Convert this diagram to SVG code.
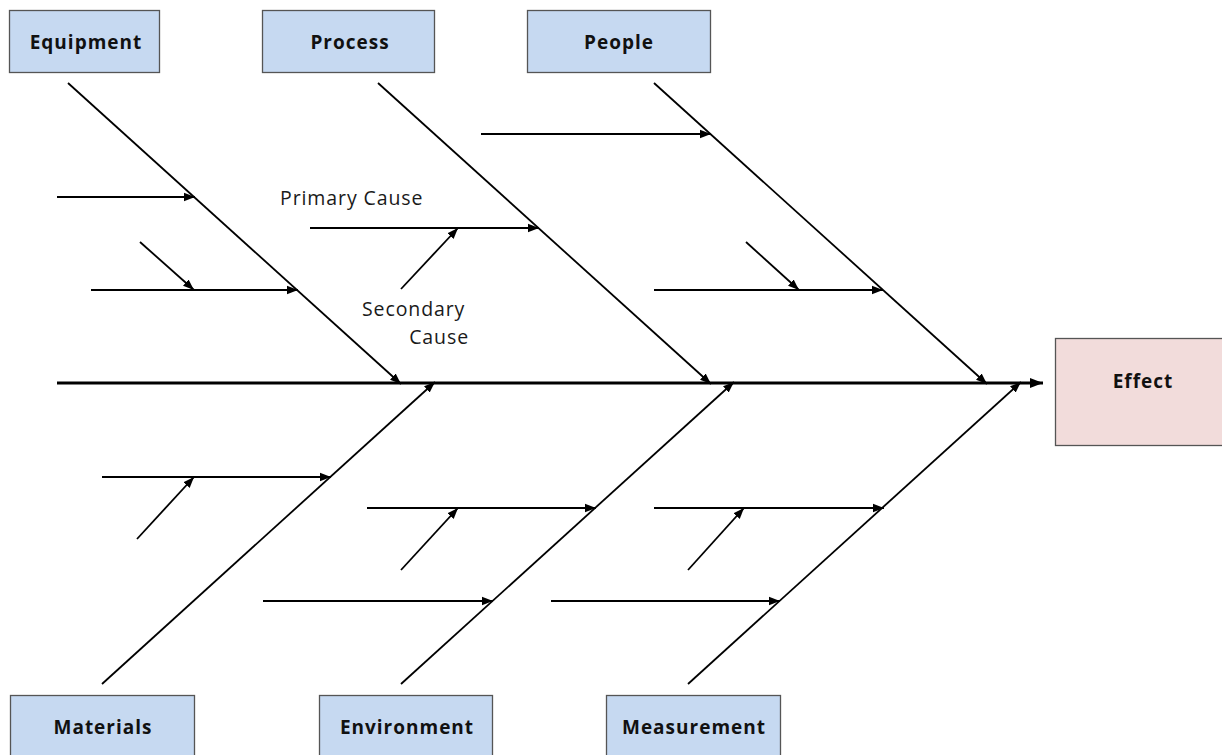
<svg xmlns="http://www.w3.org/2000/svg" width="1222" height="755" viewBox="0 0 1222 755">
<style>
.box{fill:#c6d9f1;stroke:#555;stroke-width:1.3}
.eff{fill:#f2dcdb;stroke:#555;stroke-width:1.3}
.lbl{font-family:"Open Sans","Liberation Sans",sans-serif;font-weight:bold;font-size:19px;letter-spacing:1px;fill:#111;text-anchor:middle}
.note{font-family:"Open Sans","Liberation Sans",sans-serif;font-size:19.5px;letter-spacing:0.9px;fill:#1a1a1a}
.ln{stroke:#000;stroke-width:1.8;fill:none}
.ar{stroke:#000;stroke-width:1.8;fill:none;marker-end:url(#ah)}
.sp{stroke:#000;stroke-width:2.8;fill:none;marker-end:url(#ah2)}
</style>
<defs>
<marker id="ah" markerWidth="12" markerHeight="10" refX="11" refY="5" orient="auto" markerUnits="userSpaceOnUse"><path d="M0,0.8 L11,5 L0,9.2 Z" fill="#000"/></marker>
<marker id="ah2" markerWidth="14" markerHeight="12" refX="13" refY="6" orient="auto" markerUnits="userSpaceOnUse"><path d="M0,1 L13,6 L0,11 Z" fill="#000"/></marker>
</defs>
<rect width="1222" height="755" fill="#fff"/>
<g id="equipment"><rect class="box" x="9.5" y="10.5" width="150" height="62"/><text class="lbl" x="86" y="49">Equipment</text></g>
<g id="process"><rect class="box" x="262.5" y="10.5" width="172" height="62"/><text class="lbl" x="350" y="49">Process</text></g>
<g id="people"><rect class="box" x="527.5" y="10.5" width="183" height="62"/><text class="lbl" x="619" y="49">People</text></g>
<g id="effect"><rect class="eff" x="1055.5" y="338.5" width="170" height="107"/><text class="lbl" x="1143" y="388">Effect</text></g>
<g id="materials"><rect class="box" x="10.5" y="695.5" width="184" height="70"/><text class="lbl" x="103" y="734">Materials</text></g>
<g id="environment"><rect class="box" x="319.5" y="695.5" width="173" height="70"/><text class="lbl" x="407" y="734">Environment</text></g>
<g id="measurement"><rect class="box" x="606.5" y="695.5" width="174" height="70"/><text class="lbl" x="694" y="734">Measurement</text></g>
<g id="labels">
<text class="note" x="280" y="205">Primary Cause</text>
<text class="note" x="362" y="316">Secondary</text>
<text class="note" x="469" y="344" text-anchor="end">Cause</text>
</g>
<g id="connectors">
<line class="sp" x1="57" y1="383" x2="1043" y2="383"/>
<line class="ar" x1="68" y1="83" x2="401" y2="384"/>
<line class="ar" x1="378" y1="83" x2="711" y2="384"/>
<line class="ar" x1="654" y1="83" x2="987" y2="384"/>
<line class="ar" x1="102" y1="684" x2="435" y2="382"/>
<line class="ar" x1="401" y1="684" x2="734" y2="382"/>
<line class="ar" x1="688" y1="684" x2="1021" y2="382"/>
<line class="ar" x1="57" y1="197" x2="195" y2="197"/>
<line class="ar" x1="91" y1="290" x2="298" y2="290"/>
<line class="ar" x1="140" y1="242" x2="194" y2="290"/>
<line class="ar" x1="310" y1="228" x2="539" y2="228"/>
<line class="ar" x1="401" y1="289" x2="458" y2="228"/>
<line class="ar" x1="481" y1="134" x2="711" y2="134"/>
<line class="ar" x1="654" y1="290" x2="883" y2="290"/>
<line class="ar" x1="746" y1="242" x2="799" y2="290"/>
<line class="ar" x1="102" y1="477" x2="331" y2="477"/>
<line class="ar" x1="137" y1="539" x2="194" y2="477"/>
<line class="ar" x1="367" y1="508" x2="596" y2="508"/>
<line class="ar" x1="401" y1="570" x2="458" y2="508"/>
<line class="ar" x1="263" y1="601" x2="493" y2="601"/>
<line class="ar" x1="654" y1="508" x2="884" y2="508"/>
<line class="ar" x1="688" y1="570" x2="744" y2="508"/>
<line class="ar" x1="551" y1="601" x2="780" y2="601"/>
</g>
</svg>
